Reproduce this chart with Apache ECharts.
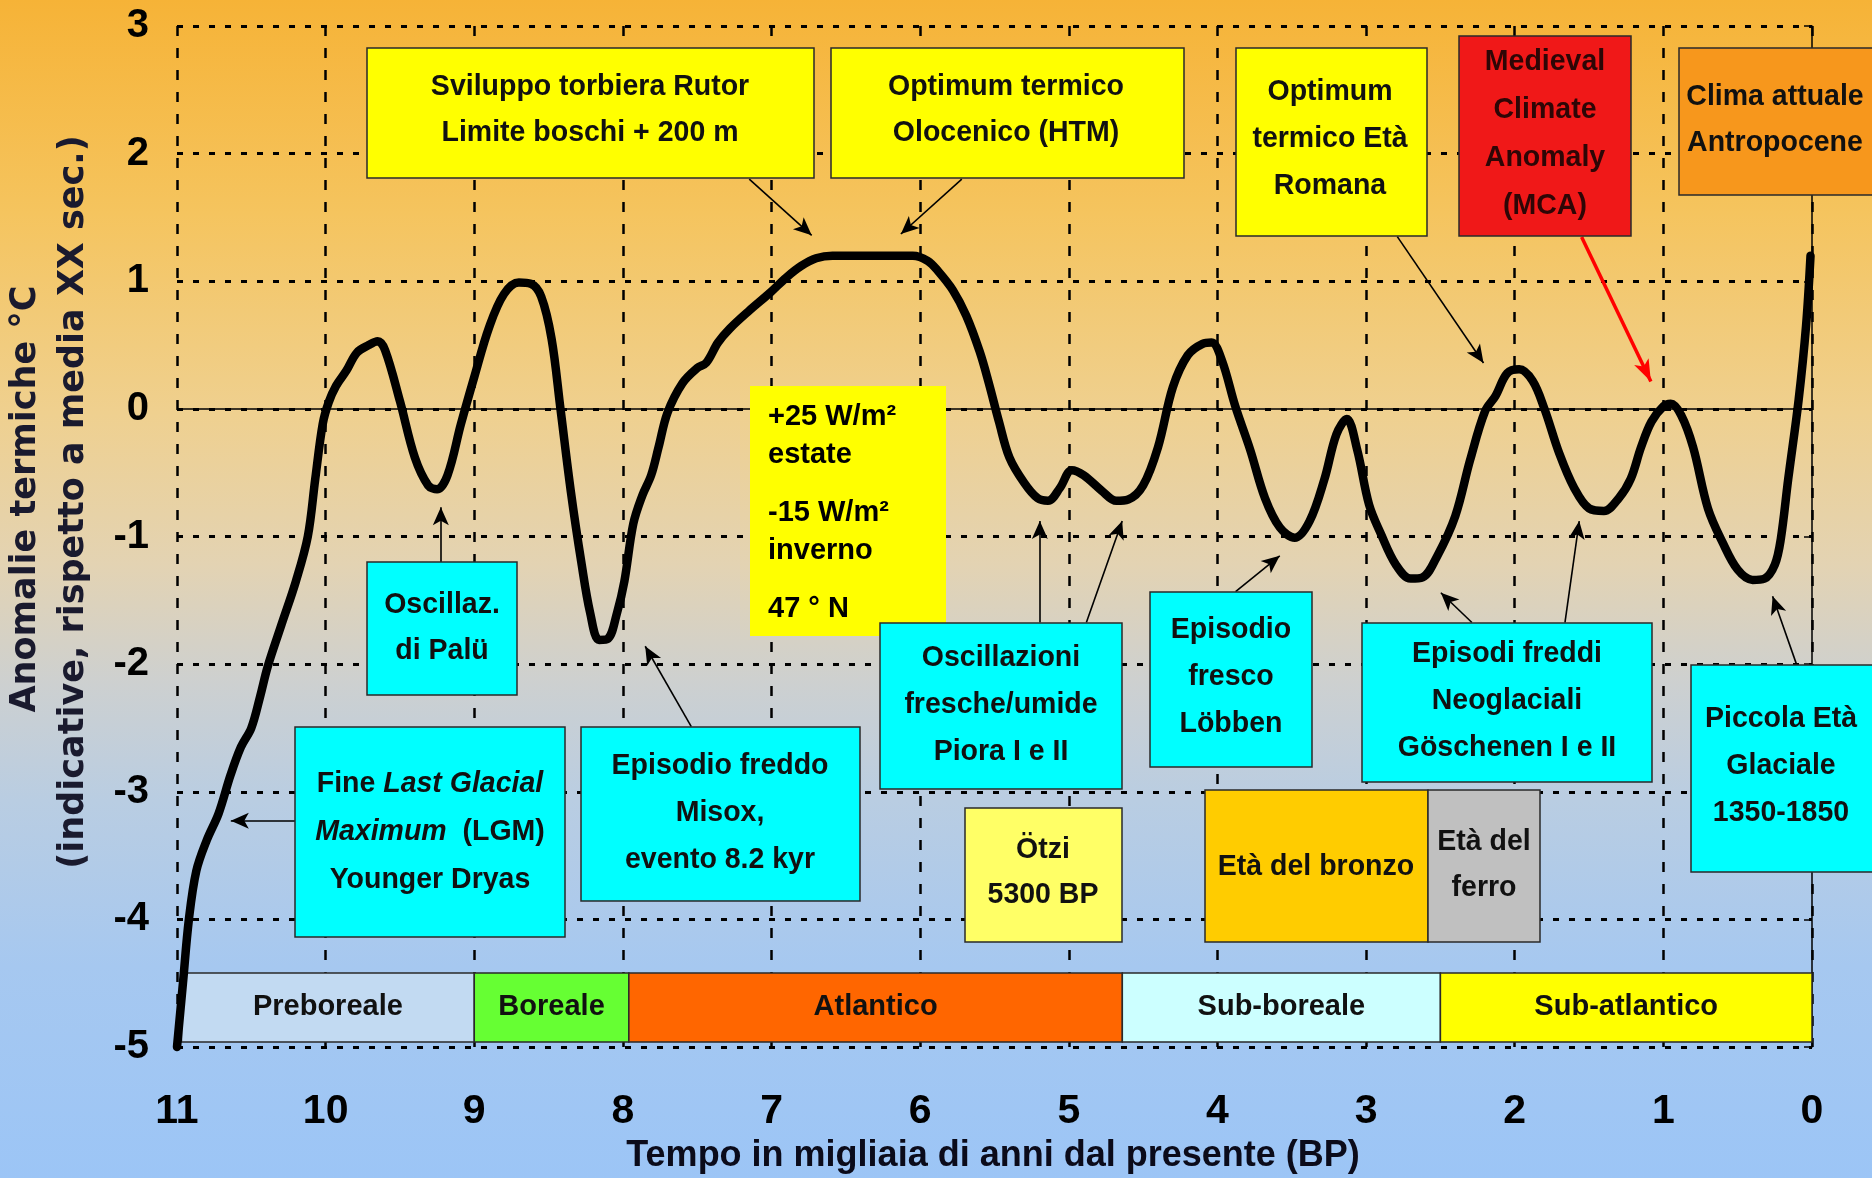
<!DOCTYPE html>
<html><head><meta charset="utf-8">
<script src="https://cdn.jsdelivr.net/npm/echarts@6/dist/echarts.min.js"></script>
<style>
html,body{margin:0;padding:0;width:1872px;height:1178px;overflow:hidden}
#c{width:1872px;height:1178px;background:linear-gradient(to bottom,#F6B337 0%,#F5C45E 18%,#EFD08F 35%,#E3D3B3 48%,#CDD0D0 58%,#B9CDE2 68%,#A6C8F0 82%,#9CC5F6 100%);}
</style>
</head><body><div id="c"></div>
<script>
// ---- data ----
const anomalyCurve = [[11.0,-5.0],[10.96,-4.5],[10.92,-4.0],[10.87,-3.62],[10.8,-3.38],[10.72,-3.17],[10.64,-2.87],[10.57,-2.65],[10.5,-2.5],[10.44,-2.25],[10.39,-2.02],[10.3,-1.7],[10.2,-1.35],[10.12,-1.0],[10.07,-0.55],[10.02,-0.12],[9.98,0.05],[9.93,0.18],[9.86,0.3],[9.79,0.44],[9.71,0.5],[9.65,0.53],[9.6,0.46],[9.5,0.06],[9.4,-0.38],[9.31,-0.6],[9.25,-0.63],[9.18,-0.52],[9.09,-0.12],[9.0,0.25],[8.9,0.64],[8.8,0.9],[8.7,0.99],[8.62,0.98],[8.55,0.88],[8.48,0.55],[8.42,0.0],[8.35,-0.65],[8.28,-1.2],[8.22,-1.6],[8.16,-1.81],[8.1,-1.8],[8.04,-1.6],[7.99,-1.35],[7.93,-0.9],[7.87,-0.68],[7.81,-0.52],[7.76,-0.3],[7.7,-0.03],[7.6,0.2],[7.5,0.32],[7.44,0.36],[7.36,0.52],[7.28,0.63],[7.15,0.77],[7.01,0.91],[6.9,1.03],[6.8,1.12],[6.7,1.18],[6.59,1.2],[6.3,1.2],[6.05,1.2],[5.95,1.16],[5.88,1.08],[5.78,0.93],[5.69,0.73],[5.6,0.45],[5.54,0.21],[5.47,-0.1],[5.4,-0.38],[5.3,-0.58],[5.21,-0.7],[5.14,-0.72],[5.06,-0.62],[4.98,-0.48],[4.9,-0.52],[4.78,-0.64],[4.68,-0.72],[4.6,-0.71],[4.5,-0.6],[4.4,-0.3],[4.3,0.17],[4.2,0.42],[4.1,0.51],[4.04,0.52],[3.97,0.38],[3.88,0.02],[3.78,-0.32],[3.68,-0.7],[3.58,-0.93],[3.48,-1.01],[3.38,-0.88],[3.28,-0.55],[3.2,-0.2],[3.13,-0.08],[3.06,-0.32],[2.98,-0.75],[2.9,-0.98],[2.8,-1.22],[2.7,-1.33],[2.62,-1.32],[2.52,-1.15],[2.4,-0.84],[2.3,-0.4],[2.2,-0.02],[2.13,0.1],[2.05,0.28],[1.97,0.31],[1.88,0.22],[1.8,0.0],[1.7,-0.35],[1.6,-0.62],[1.5,-0.78],[1.4,-0.8],[1.3,-0.7],[1.22,-0.55],[1.15,-0.3],[1.08,-0.1],[1.0,0.02],[0.95,0.04],[0.88,-0.05],[0.8,-0.3],[0.7,-0.78],[0.6,-1.05],[0.5,-1.26],[0.4,-1.34],[0.32,-1.33],[0.25,-1.22],[0.21,-1.02],[0.16,-0.55],[0.09,0.07],[0.04,0.65],[0.01,1.2]];
const periodNames = ['Preboreale','Boreale','Atlantico','Sub-boreale','Sub-atlantico'];
const periodStart = [10.97, 9.0, 7.96, 4.64, 2.5];
const periodEnd   = [9.0, 7.96, 4.64, 2.5, 0.0];
const periodBandTop = -4.42, periodBandBottom = -4.96;
// annotation arrows [from, to] in (kyr BP, °C)
const arrowFrom = [[7.15,1.80],[5.72,1.80],[2.79,1.35],[9.225,-1.20],[10.205,-3.227],[7.54,-2.49],[5.195,-1.674],[4.882,-1.674],[3.878,-1.431],[2.288,-1.674],[1.662,-1.674],[0.104,-2.002]];
const arrowTo   = [[6.73,1.36],[6.13,1.37],[2.21,0.36],[9.225,-0.77],[10.638,-3.227],[7.85,-1.86],[5.195,-0.879],[4.641,-0.879],[3.581,-1.151],[2.497,-1.441],[1.566,-0.879],[0.265,-1.469]];
const redArrowFrom = [[1.55,1.347]];
const redArrowTo = [[1.084,0.215]];
const insolLines = ['+25 W/m²','estate','-15 W/m²','inverno','47 ° N'];

// ---- styles ----
const periodColors = ['#C2DAF2','#66FF33','#FF6600','#CCFFFF','#FFFF00'];
const BOXFONT = "'Liberation Sans', Arial, sans-serif";
const BF = 'bold 30px ' + BOXFONT;

const chart = echarts.init(document.getElementById('c'), null, {renderer:'canvas'});

function box(x, y, w, h, fill, text, cx, cy, lh, opts) {
  opts = opts || {};
  const els = [{
    type:'rect', z:50, shape:{x:x, y:y, width:w, height:h},
    style:{fill:fill, stroke: opts.noStroke ? null : '#2a2a2a', lineWidth: opts.noStroke ? 0 : 1.5}
  }];
  if (text) {
    const st = {text:text, x:0, y:0, align:'center', verticalAlign:'middle',
      textAlign:'center', textVerticalAlign:'middle',
      font: BF, lineHeight: lh, fill: opts.color || '#111'};
    if (opts.rich) st.rich = opts.rich;
    els.push({type:'text', z:51, x:cx, y:cy, scaleX:0.95, style:st});
  }
  return els;
}

let graphics = [];
graphics = graphics.concat(
  box(367,48,447,130,'#FFFF00','Sviluppo torbiera Rutor\nLimite boschi + 200 m',590,110,46),
  box(831,48,353,130,'#FFFF00','Optimum termico\nOlocenico (HTM)',1006,110,46),
  box(1236,48,191,188,'#FFFF00','Optimum\ntermico Età\nRomana',1330,139,47),
  box(1459,36,172,200,'#F01818','Medieval\nClimate\nAnomaly\n(MCA)',1545,134,48,{color:'#2e0606'}),
  box(1679,48,210,147,'#F7971C','Clima attuale\nAntropocene',1775,120,46),
  box(750,386,196,250,'#FFFF00',null,0,0,0,{noStroke:true}),
  box(367,562,150,133,'#00FFFF','Oscillaz.\ndi Palü',442,628,46),
  box(295,727,270,210,'#00FFFF','{n|Fine }{i|Last Glacial}\n{i|Maximum}{n|  (LGM)}\n{n|Younger Dryas}',430,832,48,
     {rich:{n:{font:BF, fill:'#111', lineHeight:48}, i:{font:'italic bold 30px '+BOXFONT, fill:'#111', lineHeight:48}}}),
  box(581,727,279,174,'#00FFFF','Episodio freddo\nMisox,\nevento 8.2 kyr',720,813,47),
  box(880,623,242,166,'#00FFFF','Oscillazioni\nfresche/umide\nPiora I e II',1001,705,47),
  box(965,808,157,134,'#FFFF66','Ötzi\n5300 BP',1043,872,45),
  box(1150,592,162,175,'#00FFFF','Episodio\nfresco\nLöbben',1231,677,47),
  box(1205,790,223,152,'#FFCC00','Età del bronzo',1316,867,46),
  box(1428,790,112,152,'#C0C0C0','Età del\nferro',1484,865,46),
  box(1362,623,290,159,'#00FFFF','Episodi freddi\nNeoglaciali\nGöschenen I e II',1507,701,47),
  box(1691,665,190,207,'#00FFFF','Piccola Età\nGlaciale\n1350-1850',1781,766,47)
);
const insolY = [417,455,513,551,609];
insolLines.forEach(function(t,i){
  graphics.push({type:'text', z:52, style:{text:t, x:768, y:insolY[i], align:'left', verticalAlign:'middle',
    textAlign:'left', textVerticalAlign:'middle', font:"bold 29px 'Liberation Sans', Arial, sans-serif", fill:'#000'}});
});
// axis titles
graphics.push({type:'text', z:52, x:993, y:1156, style:{text:'Tempo in migliaia di anni dal presente (BP)', x:0, y:0,
  align:'center', verticalAlign:'middle', textAlign:'center', textVerticalAlign:'middle',
  font:"bold 36px 'Liberation Sans', Arial, sans-serif", fill:'#0b0b1a'}});
graphics.push({type:'text', z:52, x:26, y:499, rotation:Math.PI/2, style:{text:'Anomalie termiche °C', x:0, y:0,
  align:'center', verticalAlign:'middle', textAlign:'center', textVerticalAlign:'middle',
  font:"bold 35px 'DejaVu Sans', sans-serif", fill:'#1a1a2e'}});
graphics.push({type:'text', z:52, x:74, y:502, rotation:Math.PI/2, style:{text:'(indicative, rispetto a media XX sec.)', x:0, y:0,
  align:'center', verticalAlign:'middle', textAlign:'center', textVerticalAlign:'middle',
  font:"bold 35px 'DejaVu Sans', sans-serif", fill:'#1a1a2e'}});

const periodAreas = periodNames.map(function(n,i){
  return [{name:n, xAxis:periodStart[i], yAxis:periodBandTop, itemStyle:{color:periodColors[i], borderColor:'#2a2a2a', borderWidth:1.5}},
          {xAxis:periodEnd[i], yAxis:periodBandBottom}];
});
const blackArrows = arrowFrom.map(function(f,i){ return [{coord:f},{coord:arrowTo[i]}]; });
const redArrows = redArrowFrom.map(function(f,i){ return [{coord:f},{coord:redArrowTo[i]}]; });

const AXFONT = "'Liberation Sans', Arial, sans-serif";
const option = {
  backgroundColor:'transparent',
  animation:false,
  grid:{left:177, right:60, top:26, bottom:131, containLabel:false},
  xAxis:{type:'value', inverse:true, min:0, max:11, interval:1,
    axisLine:{show:false}, axisTick:{show:false},
    axisLabel:{fontFamily:AXFONT, fontWeight:'bold', fontSize:41, color:'#000', margin:44},
    splitLine:{show:true, lineStyle:{color:'#000', width:2.5, type:[10,12]}}},
  yAxis:{type:'value', min:-5, max:3, interval:1,
    axisLine:{show:true, lineStyle:{color:'#000', width:1.5}},
    axisTick:{show:true, length:8, lineStyle:{color:'#000', width:1.5}},
    axisLabel:{fontFamily:AXFONT, fontWeight:'bold', fontSize:40, color:'#000', margin:28},
    splitLine:{show:true, lineStyle:{color:'#000', width:3, type:[6,10]}}},
  graphic: graphics,
  series:[
    {type:'line', data:[], z:2, silent:true,
      markArea:{silent:true, label:{show:true, position:'inside', fontFamily:BOXFONT, fontWeight:'bold', fontSize:29, color:'#111'},
        data: periodAreas}},
    {type:'line', data:[], z:3, silent:true,
      markLine:{silent:true, symbol:'none', label:{show:false}, lineStyle:{color:'#000', width:1.5, type:'solid'},
        data:[{yAxis:0}]}},
    {type:'line', data:[], z:4, silent:true,
      markLine:{silent:true, symbol:['none','arrow'], symbolSize:[12,18], label:{show:false},
        lineStyle:{color:'#000', width:1.6, type:'solid'}, data: blackArrows}},
    {type:'line', data:[], z:4, silent:true,
      markLine:{silent:true, symbol:['none','arrow'], symbolSize:[12,22], label:{show:false},
        lineStyle:{color:'#FF0000', width:3.5, type:'solid'}, data: redArrows}},
    {type:'line', data: anomalyCurve, z:5, smooth:0.35, showSymbol:false, clip:false, silent:true,
      lineStyle:{color:'#000', width:8.5, cap:'round', join:'round'}}
  ]
};
chart.setOption(option);
</script></body></html>
